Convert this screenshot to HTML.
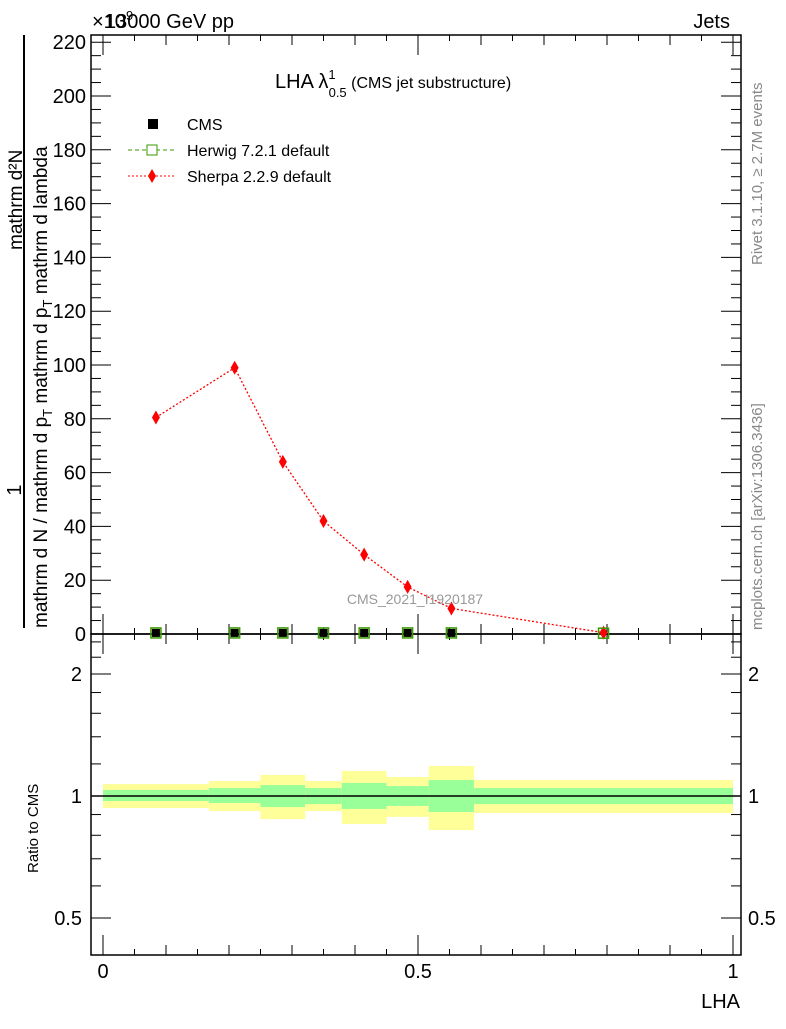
<!DOCTYPE html>
<html><head><meta charset="utf-8"><style>
body{margin:0;background:#fff;}
svg text{font-family:"Liberation Sans",sans-serif;}
</style></head><body>
<svg id="chart" width="786" height="1024" xmlns="http://www.w3.org/2000/svg">
<g id="bands"></g>
<g id="axes"></g>
<g id="series"></g>
<text x="105" y="28" font-size="20">13000 GeV pp</text>
<text x="92" y="28" font-size="20">×10<tspan dy="-8" font-size="13">9</tspan></text>
<text x="730" y="28" font-size="20" text-anchor="end">Jets</text>
<text x="275" y="88" font-size="20">LHA λ<tspan dy="-9" font-size="13">1</tspan><tspan dx="-7" dy="18" font-size="13">0.5</tspan><tspan dy="-9" font-size="16"> (CMS jet substructure)</tspan></text>
<g>
<rect x="148" y="119" width="10" height="10" fill="#000"/>
<text x="187" y="130" font-size="16">CMS</text>
<line x1="128" y1="150" x2="175" y2="150" stroke="#3a9a00" stroke-dasharray="4,3"/>
<rect x="147" y="145" width="10" height="10" fill="#fff" stroke="#3a9a00"/>
<text x="187" y="156" font-size="16">Herwig 7.2.1 default</text>
<line x1="128" y1="176" x2="175" y2="176" stroke="#f00" stroke-dasharray="2,2"/>
<path d="M152,169 L156,176 L152,183 L148,176Z" fill="#f00"/>
<text x="187" y="182" font-size="16">Sherpa 2.2.9 default</text>
</g>
<text x="415" y="604" font-size="14" fill="#999" text-anchor="middle">CMS_2021_I1920187</text>
<text transform="translate(762,265) rotate(-90)" font-size="15" fill="#888">Rivet 3.1.10, ≥ 2.7M events</text>
<text transform="translate(762,630) rotate(-90)" font-size="15" fill="#888">mcplots.cern.ch [arXiv:1306.3436]</text>
<g>
<text transform="translate(21,490) rotate(-90)" font-size="20" text-anchor="middle">1</text>
<text transform="translate(22,250) rotate(-90)" font-size="19">mathrm d²N</text>
<line x1="24" y1="35" x2="24" y2="628" stroke="#000" stroke-width="2"/>
<text transform="translate(47,628) rotate(-90)" font-size="19">mathrm d N / mathrm d p<tspan dy="5" font-size="13">T</tspan><tspan dy="-5"> mathrm d p</tspan><tspan dy="5" font-size="13">T</tspan><tspan dy="-5"> mathrm d lambda</tspan></text>
</g>
<text transform="translate(38,873) rotate(-90)" font-size="15">Ratio to CMS</text>
<text x="740" y="1008" font-size="20" text-anchor="end">LHA</text>
</svg>
<script>
const edges=[0,0.168,0.25,0.321,0.379,0.45,0.517,0.589,1];
const sherpa=[80.5,99,64,42,29.5,17.5,9.5,0.5];
const cms=[0.4,0.4,0.4,0.4,0.4,0.4,0.4,0.3];
const herwig=[0.4,0.4,0.4,0.4,0.4,0.4,0.4,0.3];
const yelHi=[1.07,1.089,1.127,1.089,1.153,1.114,1.186,1.095];
const yelLo=[0.934,0.918,0.877,0.918,0.853,0.888,0.824,0.908];
const grnHi=[1.035,1.046,1.064,1.046,1.077,1.058,1.095,1.046];
const grnLo=[0.972,0.961,0.939,0.955,0.929,0.945,0.913,0.955];
const yTicks=[0,20,40,60,80,100,120,140,160,180,200,220];
const xTicks=[0,0.5,1];const xTickLabels=["0","0.5","1"];
const rTicks=[0.5,1,2];const rTickLabels=["0.5","1","2"];
const NS="http://www.w3.org/2000/svg";
const X=v=>103+630*v, Y=v=>634-2.69*v, R=r=>796-122*Math.log2(r);
function mk(p,t,a){const e=document.createElementNS(NS,t);for(const k in a)e.setAttribute(k,a[k]);document.getElementById(p).appendChild(e);return e;}
for(let i=0;i<sherpa.length;i++){
 let e=mk('bands','rect',{x:X(edges[i]),y:R(yelHi[i]),width:X(edges[i+1])-X(edges[i]),height:R(yelLo[i])-R(yelHi[i]),fill:'#ffff99'});
 
 
 e=mk('bands','rect',{x:X(edges[i]),y:R(grnHi[i]),width:X(edges[i+1])-X(edges[i]),height:R(grnLo[i])-R(grnHi[i]),fill:'#99ff99'});
 
 
}
const A='axes';
mk(A,'rect',{x:91,y:35,width:650,height:599,fill:'none',stroke:'#000','stroke-width':1.5});
mk(A,'rect',{x:91,y:634,width:650,height:321,fill:'none',stroke:'#000','stroke-width':1.5});
mk(A,'line',{x1:91,y1:R(1),x2:741,y2:R(1),stroke:'#000','stroke-width':1.5});
for(let v=0;v<=222;v+=5){const L=v%20==0?20:10;mk(A,'line',{x1:91,y1:Y(v),x2:91+L,y2:Y(v),stroke:'#000'});mk(A,'line',{x1:741,y1:Y(v),x2:741-L,y2:Y(v),stroke:'#000'});}
yTicks.forEach(v=>{const t=mk(A,'text',{x:86,y:Y(v)+7,'font-size':20,'text-anchor':'end'});t.textContent=v;
 
 });
for(let i=0;i<=20;i++){const v=i*0.05;const L=i%10==0?20:(i%2==0?10:6);
 mk(A,'line',{x1:X(v),y1:634,x2:X(v),y2:634-L,stroke:'#000'});mk(A,'line',{x1:X(v),y1:35,x2:X(v),y2:35+L,stroke:'#000'});
 mk(A,'line',{x1:X(v),y1:955,x2:X(v),y2:955-L,stroke:'#000'});mk(A,'line',{x1:X(v),y1:634,x2:X(v),y2:634+L,stroke:'#000'});}
xTicks.forEach((v,i)=>{const t=mk(A,'text',{x:X(v),y:978,'font-size':20,'text-anchor':'middle'});t.textContent=xTickLabels[i];
 
 });
[0.5,0.6,0.7,0.8,0.9,1,1.2,1.4,1.6,1.8,2,2.2,2.4].forEach(r=>{const L=[0.5,1,2].includes(r)?20:10;mk(A,'line',{x1:91,y1:R(r),x2:91+L,y2:R(r),stroke:'#000'});mk(A,'line',{x1:741,y1:R(r),x2:741-L,y2:R(r),stroke:'#000'});});
rTicks.forEach((r,i)=>{let t=mk(A,'text',{x:82,y:R(r)+7,'font-size':20,'text-anchor':'end'});t.textContent=rTickLabels[i];
 
 
 t=mk(A,'text',{x:748,y:R(r)+7,'font-size':20});t.textContent=rTickLabels[i];
 
 });
const mid=i=>X((edges[i]+edges[i+1])/2);
let pts=sherpa.map((v,i)=>mid(i)+','+Y(v)).join(' ');
let pl=mk('series','polyline',{points:pts,fill:'none',stroke:'#f00','stroke-dasharray':'2,2','stroke-width':1.3});


sherpa.forEach((v,i)=>{const x=mid(i),y=Y(v);const d=mk('series','path',{d:`M${x},${y-7}L${x+4},${y}L${x},${y+7}L${x-4},${y}Z`,fill:'#f00'});
 
 });
herwig.forEach((v,i)=>{const r=mk('series','rect',{x:mid(i)-5,y:Y(v)-5,width:10,height:10,fill:'none',stroke:'#3a9a00','stroke-width':1.5});
 
 });
cms.forEach((v,i)=>{if(i==7)return;const r=mk('series','rect',{x:mid(i)-4,y:Y(v)-4,width:8,height:8,fill:'#000'});
 
 });
</script>
</body></html>
